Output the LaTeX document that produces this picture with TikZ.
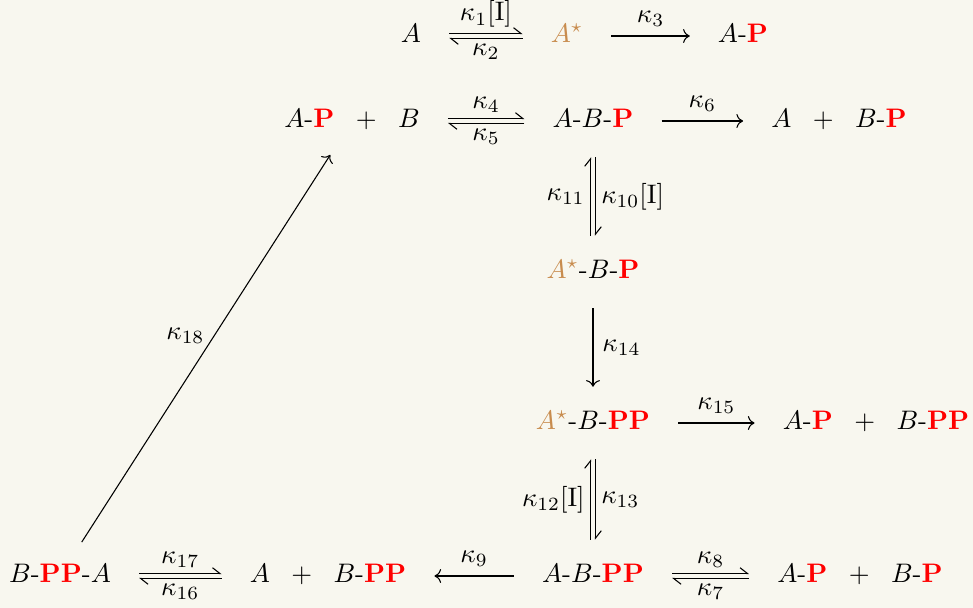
\documentclass[tikz,border=0pt]{standalone}
\usepackage{tikz}
\usetikzlibrary{arrows.meta}

\definecolor{bgcream}{RGB}{248,247,239}
\definecolor{excited}{RGB}{200,140,78}
\newcommand{\phos}{\textcolor{red}{\mathbf{P}}}
\newcommand{\pphos}{\textcolor{red}{\mathbf{PP}}}
\newcommand{\Aex}{\textcolor{excited}{A^\star}}
\newcommand{\pls}{\hspace{8pt}$+$\hspace{8pt}}

\begin{document}
\begin{tikzpicture}[x=0.3733pt, y=-0.3733pt,
	species/.style={text height=7pt, text depth=2pt},
	halfarrow/.style={-{Straight Barb[left, length=2.8pt, width=4.4pt]}},
	rate/.style={midway, inner sep=2pt},
	hshort/.style={shorten >=7pt, shorten <=7pt},
	vshort/.style={shorten >=5.5pt, shorten <=5.5pt}]
	\fill [bgcream] (0, 0) rectangle (973, 608);
	\useasboundingbox (0, 0) rectangle (973, 608);

	% species
	\node [species] (a) at (411, 36) {$A$};
	\node [species] (as) at (567, 36) {$\Aex$};
	\node [species] (ap) at (743, 36) {$A$-$\phos$};
	\node [species] (apb) at (352, 121) {$A$-$\phos$\pls$B$};
	\node [species] (abp) at (593, 121) {$A$-$B$-$\phos$};
	\node [species] (abpfree) at (839, 121) {$A$\pls$B$-$\phos$};
	\node [species] (asbp) at (593, 272) {$\Aex$-$B$-$\phos$};
	\node [species] (asbpp) at (593, 423) {$\Aex$-$B$-$\pphos$};
	\node [species] (apbpp) at (876, 423) {$A$-$\phos$\pls$B$-$\pphos$};
	\node [species] (bppa) at (60, 576) {$B$-$\pphos$-$A$};
	\node [species] (abppfree) at (328, 576) {$A$\pls$B$-$\pphos$};
	\node [species] (abpp) at (593, 576) {$A$-$B$-$\pphos$};
	\node [species] (apbp) at (860, 576) {$A$-$\phos$\pls$B$-$\phos$};

	% reversible steps
	\draw [halfarrow, hshort] ([yshift=0.9pt]a.east) -- ([yshift=0.9pt]as.west) node [rate, above] {$\kappa_1[\mathrm{I}]$};
	\draw [halfarrow, hshort] ([yshift=-0.9pt]as.west) -- ([yshift=-0.9pt]a.east) node [rate, below] {$\kappa_2$};
	\draw [halfarrow, hshort] ([yshift=0.9pt]apb.east) -- ([yshift=0.9pt]abp.west) node [rate, above] {$\kappa_4$};
	\draw [halfarrow, hshort] ([yshift=-0.9pt]abp.west) -- ([yshift=-0.9pt]apb.east) node [rate, below] {$\kappa_5$};
	\draw [halfarrow, vshort] ([xshift=-0.9pt]asbp.north) -- ([xshift=-0.9pt]abp.south) node [rate, left] {$\kappa_{11}$};
	\draw [halfarrow, vshort] ([xshift=0.9pt]abp.south) -- ([xshift=0.9pt]asbp.north) node [rate, right] {$\kappa_{10}[\mathrm{I}]$};
	\draw [halfarrow, vshort] ([xshift=-0.9pt]abpp.north) -- ([xshift=-0.9pt]asbpp.south) node [rate, left] {$\kappa_{12}[\mathrm{I}]$};
	\draw [halfarrow, vshort] ([xshift=0.9pt]asbpp.south) -- ([xshift=0.9pt]abpp.north) node [rate, right] {$\kappa_{13}$};
	\draw [halfarrow, hshort] ([yshift=0.9pt]abpp.east) -- ([yshift=0.9pt]apbp.west) node [rate, above] {$\kappa_8$};
	\draw [halfarrow, hshort] ([yshift=-0.9pt]apbp.west) -- ([yshift=-0.9pt]abpp.east) node [rate, below] {$\kappa_7$};
	\draw [halfarrow, hshort] ([yshift=0.9pt]bppa.east) -- ([yshift=0.9pt]abppfree.west) node [rate, above] {$\kappa_{17}$};
	\draw [halfarrow, hshort] ([yshift=-0.9pt]abppfree.west) -- ([yshift=-0.9pt]bppa.east) node [rate, below] {$\kappa_{16}$};

	% one-way steps
	\draw [->, hshort] (as) -- (ap) node [midway, above] {$\kappa_3$};
	\draw [->, hshort] (abp) -- (abpfree) node [midway, above] {$\kappa_6$};
	\draw [->, vshort] (asbp) -- (asbpp) node [midway, right] {$\kappa_{14}$};
	\draw [->, hshort] (asbpp) -- (apbpp) node [midway, above] {$\kappa_{15}$};
	\draw [->, hshort] (abpp) -- (abppfree) node [midway, above] {$\kappa_9$};
	\draw [->, vshort] (bppa) -- (apb) node [pos=0.53, left] {$\kappa_{18}$};
\end{tikzpicture}
\end{document}
